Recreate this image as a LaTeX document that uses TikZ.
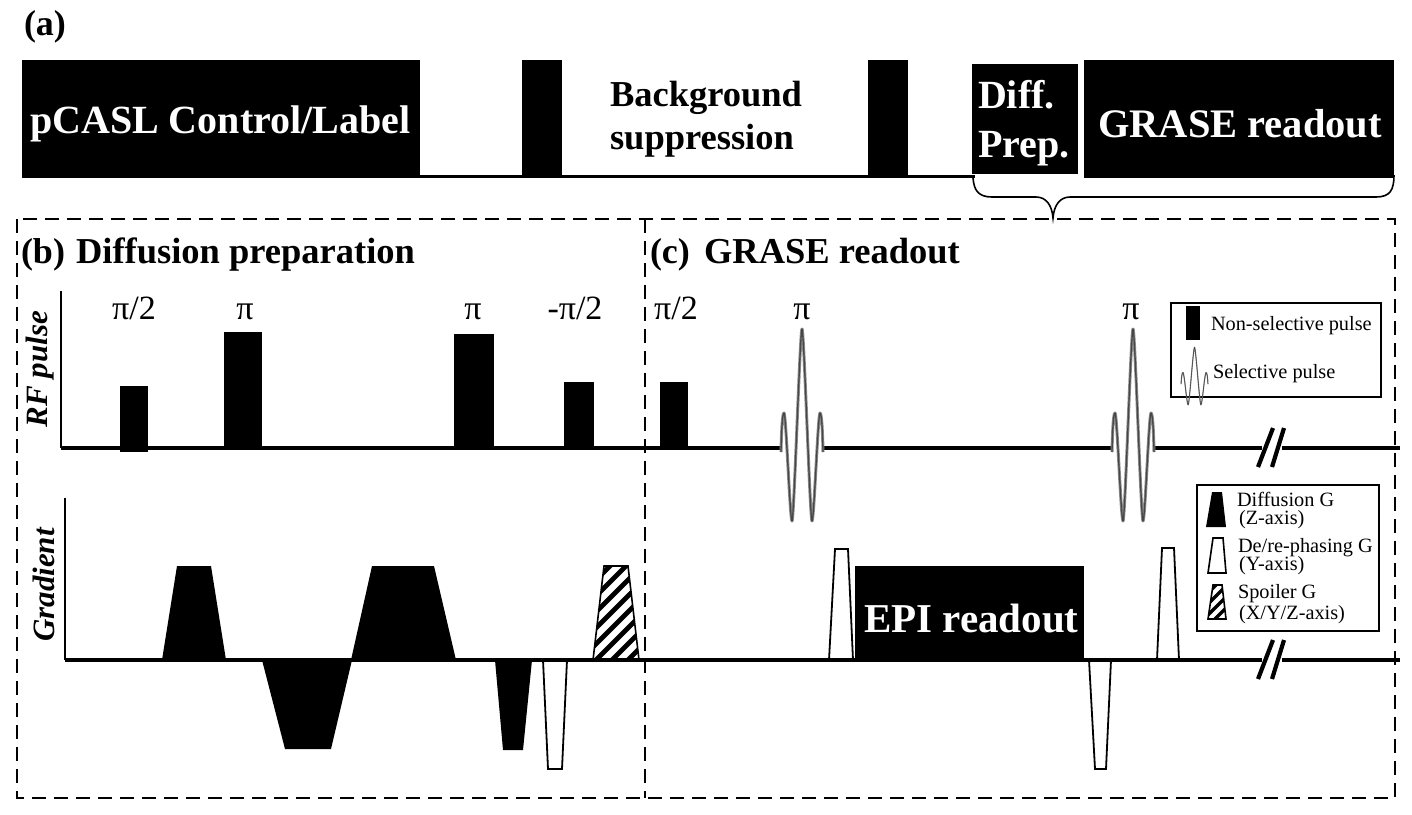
\documentclass[tikz,border=0pt]{standalone}
\usepackage{fontspec}
\setmainfont{Liberation Serif}
\newcommand{\fsz}[1]{\fontsize{#1}{#1}\selectfont}
\tikzset{
  every node/.style={inner sep=0pt,outer sep=0pt},
  blk/.style={fill=black,draw=none},
  wtrap/.style={draw=black,fill=white,line width=1.8pt},
  axisline/.style={line width=3.6pt,black},
  topline/.style={line width=3pt,black},
  thinaxis/.style={line width=1.6pt,black},
  dashbox/.style={line width=1.9pt,dash pattern=on 14pt off 8pt},
  slash/.style={line width=4.2pt,black},
  panel/.style={anchor=base west,font=\bfseries\fsz{36}},
  title/.style={anchor=base west,font=\bfseries\fsz{40},text=white},
  head/.style={anchor=base west,font=\bfseries\fsz{36.5}},
  pilabel/.style={anchor=base,font=\fsz{34}},
  legend/.style={anchor=base west,font=\fsz{20.3}},
  axlabel/.style={rotate=90,font=\bfseries\itshape\fsz{31}},
  legbox/.style={draw=black,line width=1.8pt,fill=white},
  selwave/.style={draw=black!45,line width=3pt,line join=round},
  selcore/.style={draw=black!72,line width=1.3pt,line join=round},
  selp/.pic={
    \foreach \wavestyle in {selwave,selcore}{
    \draw[\wavestyle] (-21,4) .. controls (-20.5,-20) and (-19.5,-35) .. (-18,-35)
      .. controls (-16,-35) and (-12,73) .. (-10,73)
      .. controls (-8,73) and (-2,-119) .. (0,-119)
      .. controls (2,-119) and (8,73) .. (10,73)
      .. controls (12,73) and (16,-35) .. (18,-35)
      .. controls (19.5,-35) and (20.5,-20) .. (21,4);
    }
  }
}
\begin{document}
\begin{tikzpicture}[x=1pt,y=-1pt]
\useasboundingbox (0,0) rectangle (1412,814);
\fill[white] (0,0) rectangle (1412,814);
% named coordinates for lines
\coordinate (topL) at (22,176);  \coordinate (topR) at (975,176);
\coordinate (rfA) at (61,448);   \coordinate (rfB) at (781,448);
\coordinate (rfC) at (823,448);  \coordinate (rfD) at (1112,448);
\coordinate (rfE) at (1154,448); \coordinate (rfF) at (1262,448);
\coordinate (rfG) at (1282,448); \coordinate (rfH) at (1400,448);
\coordinate (rfTop) at (61,291);
\coordinate (gA) at (65,660);    \coordinate (gB) at (1262,660);
\coordinate (gC) at (1282,660);  \coordinate (gD) at (1400,660);
\coordinate (gTop) at (65,498);
\coordinate (boxA) at (17,219);  \coordinate (boxB) at (1395,798);
\coordinate (midT) at (645,219); \coordinate (midB) at (645,798);
\coordinate (brL) at (973,178);  \coordinate (brR) at (1394,175);
\coordinate (brTip) at (1053,218);
% dashed frame
\draw[dashbox] (boxA) rectangle (boxB);
\draw[dashbox] (midT) -- (midB);
% (a) sequence
\draw[topline] (topL) -- (topR);
\fill[blk] (22,60) rectangle (420,177);
\fill[blk] (522,60) rectangle (562,177);
\fill[blk] (868,60) rectangle (908,177);
\fill[blk] (972,64) rectangle (1078,174);
\fill[blk] (1084,60) rectangle (1394,178);
\draw[line width=1.6pt] (brL) .. controls (974,190) and (978,197) .. (992,197)
  -- (1036,197) .. controls (1046,197) and (1052,205) .. (brTip)
  .. controls (1054,205) and (1060,197) .. (1070,197)
  -- (1376,197) .. controls (1390,197) and (1394,190) .. (brR);
\node[panel] (a) at (24,35) {(a)};
\node[title] (t1) at (30,133) {pCASL Control/Label};
\node[head] (t2) at (610,106) {Background};
\node[head] (t3) at (610,149) {suppression};
\node[title] (t4) at (978,108) {Diff.};
\node[title] (t5) at (978,157) {Prep.};
\node[title,font=\bfseries\fsz{40.5}] (t6) at (1098,137) {GRASE readout};
% headings
\node[panel] (b) at (21,263) {(b)};
\node[head] (bt) at (76,263) {Diffusion preparation};
\node[panel] (c) at (650,263) {(c)};
\node[head] (ct) at (704,263) {GRASE readout};
\node[axlabel] (rfl) at (40,369) {RF pulse};
\node[axlabel] (gl) at (44,585) {Gradient};
% Gradient traps (axis line passes over them)
\fill[blk] (162,660) -- (177,566) -- (211,566) -- (226,660) -- cycle;
\fill[blk] (351,660) -- (372,566) -- (434,566) -- (456,660) -- cycle;
\fill[blk] (262,660) -- (285,749) -- (331,749) -- (352,660) -- cycle;
\fill[blk] (495,660) -- (503,750) -- (523,750) -- (532,660) -- cycle;
\draw[wtrap] (543,660) -- (548,769) -- (562,769) -- (567,660);
\draw[wtrap] (829,660) -- (835,549) -- (848,549) -- (853,660);
\draw[wtrap] (1089,660) -- (1095,769) -- (1106,769) -- (1111,660);
\draw[wtrap] (1157,660) -- (1162,548) -- (1174,548) -- (1179,660);
% spoiler
\begin{scope}
\clip (593,660) -- (604,566) -- (628,566) -- (639,660) -- cycle;
\foreach \k in {0,...,13}{
  \draw[line width=4.8pt] (490+16*\k,670) -- ++(130,-130);
}
\end{scope}
\draw[line width=1.6pt] (593,660) -- (604,566) -- (628,566) -- (639,660);
% RF axis
\draw[thinaxis] (rfTop) -- (rfA);
\draw[axisline] (rfA) -- (rfB);
\draw[axisline] (rfC) -- (rfD);
\draw[axisline] (rfE) -- (rfF);
\draw[axisline] (rfG) -- (rfH);
\draw[slash] (1258,467) -- (1273,428);
\draw[slash] (1272,467) -- (1284,428);
\fill[blk] (120,386) rectangle (148,452);
\fill[blk] (224,332) rectangle (262,448);
\fill[blk] (454,334) rectangle (494,448);
\fill[blk] (564,382) rectangle (594,448);
\fill[blk] (660,382) rectangle (688,448);
\node[pilabel] (p1) at (134,319) {π/2};
\node[pilabel] (p2) at (245,319) {π};
\node[pilabel] (p3) at (473,319) {π};
\node[pilabel] (p4) at (575,319) {-π/2};
\node[pilabel] (p5) at (676,319) {π/2};
\node[pilabel] (p6) at (802,319) {π};
\node[pilabel] (p7) at (1131,319) {π};
\pic at (802,448) {selp};
\pic at (1133,448) {selp};
% Gradient axis
\draw[thinaxis] (gTop) -- (gA);
\draw[axisline] (gA) -- (gB);
\draw[axisline] (gC) -- (gD);
\draw[slash] (1258,679) -- (1273,640);
\draw[slash] (1272,679) -- (1284,640);
\fill[blk] (855,566) rectangle (1084,660);
\node[title,font=\bfseries\fsz{41}] (epi) at (864,632) {EPI readout};
% legend 1
\draw[legbox] (1171,303) rectangle (1381,397);
\fill[blk] (1186,306) rectangle (1200,340);
\node[legend] (l1) at (1211,330) {Non-selective pulse};
\pic[xscale=0.64,yscale=0.3,selwave/.append style={line width=1.2pt},selcore/.append style={line width=0.6pt}] at (1194.5,383) {selp};
\node[legend] (l2) at (1213,378) {Selective pulse};
% legend 2
\draw[legbox] (1197,485) rectangle (1379,631);
\fill[blk] (1206,527) -- (1212,492) -- (1222,492) -- (1226,527) -- cycle;
\draw[line width=1.6pt,fill=white] (1208,573) -- (1213,538) -- (1223,538) -- (1226,573) -- cycle;
\begin{scope}
\clip (1208,619) -- (1213,585) -- (1222,585) -- (1226,619) -- cycle;
\foreach \k in {0,...,7}{
  \draw[line width=3.4pt] (1165+11*\k,625) -- ++(50,-50);
}
\end{scope}
\draw[line width=1.6pt] (1208,619) -- (1213,585) -- (1222,585) -- (1226,619) -- cycle;
\node[legend] (d1) at (1237,506) {Diffusion G};
\node[legend] (d2) at (1239,524) {(Z-axis)};
\node[legend] (d3) at (1238,552) {De/re-phasing G};
\node[legend] (d4) at (1239,570) {(Y-axis)};
\node[legend] (d5) at (1238,598) {Spoiler G};
\node[legend] (d6) at (1239,619) {(X/Y/Z-axis)};
\end{tikzpicture}
\end{document}
